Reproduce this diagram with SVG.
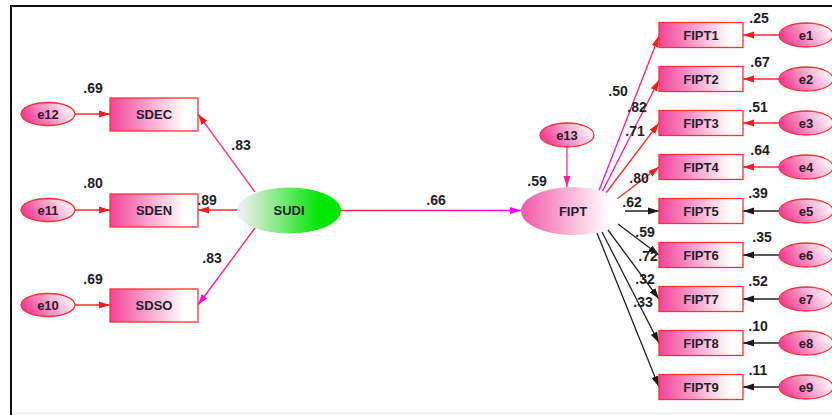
<svg xmlns="http://www.w3.org/2000/svg" width="832" height="415" viewBox="0 0 832 415">
<defs>
<linearGradient id="gPink" x1="0" y1="0" x2="1" y2="0">
<stop offset="0" stop-color="#f2449a"/><stop offset="0.85" stop-color="#ffffff"/>
</linearGradient>
<linearGradient id="gEll" x1="0" y1="0.3" x2="1" y2="0">
<stop offset="0" stop-color="#f2449a"/><stop offset="0.9" stop-color="#ffffff"/>
</linearGradient>
<linearGradient id="gFipt" x1="0" y1="0" x2="1" y2="0">
<stop offset="0" stop-color="#f25aa6"/><stop offset="0.85" stop-color="#ffffff"/>
</linearGradient>
<linearGradient id="gSudi" x1="0" y1="0" x2="1" y2="0">
<stop offset="0.05" stop-color="#eeeeee"/><stop offset="0.8" stop-color="#00e600"/>
</linearGradient>
<linearGradient id="sSdso" gradientUnits="userSpaceOnUse" x1="255" y1="228" x2="198" y2="305">
<stop offset="0" stop-color="#ff2a2a"/><stop offset="1" stop-color="#ff00ff"/>
</linearGradient>
<linearGradient id="sMid" gradientUnits="userSpaceOnUse" x1="341" y1="0" x2="521" y2="0">
<stop offset="0" stop-color="#ff2a2a"/><stop offset="1" stop-color="#ff00ff"/>
</linearGradient>
<linearGradient id="sF1" gradientUnits="userSpaceOnUse" x1="598" y1="193" x2="659" y2="36">
<stop offset="0" stop-color="#ff00ff"/><stop offset="1" stop-color="#ff2a2a"/>
</linearGradient>
<linearGradient id="sF2" gradientUnits="userSpaceOnUse" x1="602" y1="192" x2="659" y2="80">
<stop offset="0" stop-color="#ff00ff"/><stop offset="1" stop-color="#ff2a2a"/>
</linearGradient>
<marker id="aRed" markerUnits="userSpaceOnUse" markerWidth="12" markerHeight="8" refX="11" refY="4" orient="auto">
<path d="M0,0.5 L11,4 L0,7.5 Z" fill="#ff1a1a"/>
</marker>
<marker id="aMag" markerUnits="userSpaceOnUse" markerWidth="12" markerHeight="8" refX="11" refY="4" orient="auto">
<path d="M0,0.5 L11,4 L0,7.5 Z" fill="#ff00ff"/>
</marker>
<marker id="aPink" markerUnits="userSpaceOnUse" markerWidth="12" markerHeight="8" refX="11" refY="4" orient="auto">
<path d="M0,0.5 L11,4 L0,7.5 Z" fill="#ff1e90"/>
</marker>
<marker id="aBlk" markerUnits="userSpaceOnUse" markerWidth="12" markerHeight="8" refX="11" refY="4" orient="auto">
<path d="M0,0.5 L11,4 L0,7.5 Z" fill="#1a1a1a"/>
</marker>
</defs>
<style>
text{font-family:"Liberation Sans",Arial,sans-serif;font-weight:bold;fill:#1e1e2a;text-anchor:middle}
.nt{font-size:13px}
.lb{font-size:14px}
.box{fill:url(#gPink);stroke:#ff3030;stroke-width:1.3}
.err{fill:url(#gEll);stroke:#ff3030;stroke-width:1.3}
.red{stroke:#ff2a2a;stroke-width:1.3;fill:none;marker-end:url(#aRed)}
.blk{stroke:#222;stroke-width:1.3;fill:none;marker-end:url(#aBlk)}
</style>
<rect x="0" y="0" width="832" height="415" fill="#ffffff"/>
<rect x="12" y="412" width="820" height="3" fill="#f3f3f3"/>
<path d="M11,415 L11,6 L832,6" fill="none" stroke="#111" stroke-width="2"/>

<g id="connectors">
<line class="red" x1="75" y1="114" x2="110" y2="114"/>
<line class="red" x1="75" y1="210" x2="110" y2="210"/>
<line class="red" x1="75" y1="305" x2="110" y2="305"/>
<line x1="255" y1="192" x2="198" y2="114" stroke="#ff3399" stroke-width="1.3" marker-end="url(#aRed)"/>
<line class="red" x1="237" y1="210" x2="198" y2="210"/>
<line x1="255" y1="228" x2="198" y2="305" stroke="url(#sSdso)" stroke-width="1.3" marker-end="url(#aMag)"/>
<line x1="341" y1="210.5" x2="521" y2="210.5" stroke="url(#sMid)" stroke-width="1.3" marker-end="url(#aMag)"/>
<line x1="567" y1="147" x2="567" y2="187" stroke="#ff3399" stroke-width="1.3" marker-end="url(#aPink)"/>
<line x1="598" y1="193" x2="659" y2="36" stroke="url(#sF1)" stroke-width="1.3" marker-end="url(#aRed)"/>
<line x1="602" y1="192" x2="659" y2="80" stroke="url(#sF2)" stroke-width="1.3" marker-end="url(#aRed)"/>
<line class="red" x1="606" y1="193" x2="659" y2="123"/>
<line class="red" x1="617" y1="199" x2="659" y2="167"/>
<line class="blk" x1="625" y1="211" x2="659" y2="211"/>
<line class="blk" x1="618" y1="224" x2="659" y2="255"/>
<line class="blk" x1="608" y1="230" x2="659" y2="299"/>
<line class="blk" x1="602" y1="232" x2="659" y2="343"/>
<line class="blk" x1="597" y1="233" x2="659" y2="387"/>
<line class="red" x1="779" y1="35" x2="743" y2="35"/>
<line class="red" x1="779" y1="79" x2="743" y2="79"/>
<line class="red" x1="779" y1="123" x2="743" y2="123"/>
<line class="red" x1="779" y1="167" x2="743" y2="167"/>
<line class="blk" x1="779" y1="211" x2="743" y2="211"/>
<line class="blk" x1="779" y1="255" x2="743" y2="255"/>
<line class="blk" x1="779" y1="299" x2="743" y2="299"/>
<line class="blk" x1="779" y1="343" x2="743" y2="343"/>
<line class="blk" x1="779" y1="387" x2="743" y2="387"/>
</g>

<g id="e12"><ellipse class="err" cx="48" cy="114" rx="27" ry="11.5"/><text class="nt" x="48" y="118.5">e12</text></g>
<g id="e11"><ellipse class="err" cx="48" cy="210" rx="27" ry="11.5"/><text class="nt" x="48" y="214.5">e11</text></g>
<g id="e10"><ellipse class="err" cx="48" cy="305" rx="27" ry="11.5"/><text class="nt" x="48" y="309.5">e10</text></g>

<g id="SDEC"><rect class="box" x="110" y="98" width="88" height="33"/><text class="nt" x="154" y="119">SDEC</text></g>
<g id="SDEN"><rect class="box" x="110" y="194" width="88" height="33"/><text class="nt" x="154" y="215">SDEN</text></g>
<g id="SDSO"><rect class="box" x="110" y="289" width="88" height="33"/><text class="nt" x="154" y="310">SDSO</text></g>

<g id="SUDI"><ellipse cx="289" cy="210.5" rx="52" ry="23" fill="url(#gSudi)"/><text class="nt" x="289" y="215">SUDI</text></g>
<g id="FIPT"><ellipse cx="573" cy="211" rx="52" ry="24" fill="url(#gFipt)"/><text class="nt" x="573" y="215.5">FIPT</text></g>
<g id="e13"><ellipse class="err" cx="567" cy="135" rx="27" ry="12"/><text class="nt" x="567" y="139.5">e13</text></g>

<g id="FIPT1"><rect class="box" x="659" y="22.5" width="84" height="25"/><text class="nt" x="701" y="39.5">FIPT1</text></g>
<g id="FIPT2"><rect class="box" x="659" y="66.5" width="84" height="25"/><text class="nt" x="701" y="83.5">FIPT2</text></g>
<g id="FIPT3"><rect class="box" x="659" y="110.5" width="84" height="25"/><text class="nt" x="701" y="127.5">FIPT3</text></g>
<g id="FIPT4"><rect class="box" x="659" y="154.5" width="84" height="25"/><text class="nt" x="701" y="171.5">FIPT4</text></g>
<g id="FIPT5"><rect class="box" x="659" y="198.5" width="84" height="25"/><text class="nt" x="701" y="215.5">FIPT5</text></g>
<g id="FIPT6"><rect class="box" x="659" y="242.5" width="84" height="25"/><text class="nt" x="701" y="259.5">FIPT6</text></g>
<g id="FIPT7"><rect class="box" x="659" y="286.5" width="84" height="25"/><text class="nt" x="701" y="303.5">FIPT7</text></g>
<g id="FIPT8"><rect class="box" x="659" y="330.5" width="84" height="25"/><text class="nt" x="701" y="347.5">FIPT8</text></g>
<g id="FIPT9"><rect class="box" x="659" y="374.5" width="84" height="25"/><text class="nt" x="701" y="391.5">FIPT9</text></g>

<g id="e1"><ellipse class="err" cx="806" cy="35" rx="27" ry="12"/><text class="nt" x="806" y="39.5">e1</text></g>
<g id="e2"><ellipse class="err" cx="806" cy="79" rx="27" ry="12"/><text class="nt" x="806" y="83.5">e2</text></g>
<g id="e3"><ellipse class="err" cx="806" cy="123" rx="27" ry="12"/><text class="nt" x="806" y="127.5">e3</text></g>
<g id="e4"><ellipse class="err" cx="806" cy="167" rx="27" ry="12"/><text class="nt" x="806" y="171.5">e4</text></g>
<g id="e5"><ellipse class="err" cx="806" cy="211" rx="27" ry="12"/><text class="nt" x="806" y="215.5">e5</text></g>
<g id="e6"><ellipse class="err" cx="806" cy="255" rx="27" ry="12"/><text class="nt" x="806" y="259.5">e6</text></g>
<g id="e7"><ellipse class="err" cx="806" cy="299" rx="27" ry="12"/><text class="nt" x="806" y="303.5">e7</text></g>
<g id="e8"><ellipse class="err" cx="806" cy="343" rx="27" ry="12"/><text class="nt" x="806" y="347.5">e8</text></g>
<g id="e9"><ellipse class="err" cx="806" cy="387" rx="27" ry="12"/><text class="nt" x="806" y="391.5">e9</text></g>

<g id="labels">
<text class="lb" x="93" y="93">.69</text>
<text class="lb" x="93" y="188">.80</text>
<text class="lb" x="93" y="284">.69</text>
<text class="lb" x="241" y="150">.83</text>
<text class="lb" x="207" y="205">.89</text>
<text class="lb" x="212" y="263">.83</text>
<text class="lb" x="436" y="205">.66</text>
<text class="lb" x="537" y="186">.59</text>
<text class="lb" x="618" y="96">.50</text>
<text class="lb" x="637" y="112">.82</text>
<text class="lb" x="635" y="136">.71</text>
<text class="lb" x="639" y="183">.80</text>
<text class="lb" x="632" y="207">.62</text>
<text class="lb" x="645" y="237">.59</text>
<text class="lb" x="648" y="261">.72</text>
<text class="lb" x="645" y="284">.32</text>
<text class="lb" x="643" y="307">.33</text>
<text class="lb" x="759" y="23">.25</text>
<text class="lb" x="760" y="67">.67</text>
<text class="lb" x="758" y="112">.51</text>
<text class="lb" x="760" y="155">.64</text>
<text class="lb" x="758" y="198">.39</text>
<text class="lb" x="762" y="242">.35</text>
<text class="lb" x="758" y="286">.52</text>
<text class="lb" x="758" y="331">.10</text>
<text class="lb" x="758" y="375">.11</text>
</g>
</svg>
